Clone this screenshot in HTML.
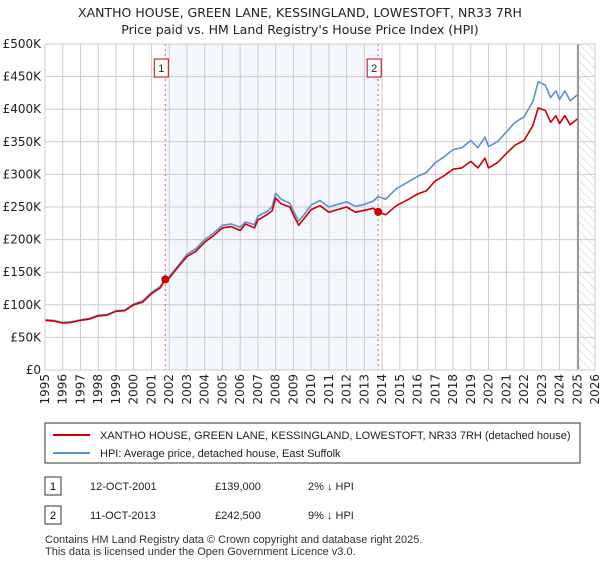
<!DOCTYPE html>
<html><head><meta charset="utf-8"><style>
body{margin:0;background:#fff;font-family:"Liberation Sans","DejaVu Sans",sans-serif;}
svg text{font-family:"Liberation Sans","DejaVu Sans",sans-serif;}
svg text.dj{font-family:"DejaVu Sans","Liberation Sans",sans-serif;}
</style></head><body>
<svg id="c" width="600" height="560" xmlns="http://www.w3.org/2000/svg">
<defs><pattern id="hatch" width="6" height="6" patternUnits="userSpaceOnUse" patternTransform="rotate(-45)"><line x1="0" y1="0" x2="0" y2="6" stroke="#ccc" stroke-width="1"/></pattern></defs>
<text class="dj" x="300" y="17" text-anchor="middle" font-size="12.5" fill="#222">XANTHO HOUSE, GREEN LANE, KESSINGLAND, LOWESTOFT, NR33 7RH</text>
<text class="dj" x="300" y="34" text-anchor="middle" font-size="12.5" fill="#222">Price paid vs. HM Land Registry's House Price Index (HPI)</text>
<g id="plot"></g>
<rect x="45" y="423" width="535" height="40" fill="#fff" stroke="#333"/>
<line x1="53" y1="435" x2="90" y2="435" stroke="#cc0000" stroke-width="2"/>
<text x="100" y="439" font-size="11" fill="#222">XANTHO HOUSE, GREEN LANE, KESSINGLAND, LOWESTOFT, NR33 7RH (detached house)</text>
<line x1="53" y1="453" x2="90" y2="453" stroke="#5b8fd4" stroke-width="2"/>
<text x="100" y="457" font-size="11" fill="#222">HPI: Average price, detached house, East Suffolk</text>
<rect x="45" y="477" width="16" height="18" fill="#fff" stroke="#333"/>
<text x="53" y="490" font-size="11" text-anchor="middle">1</text>
<text x="90" y="490" font-size="11" fill="#222">12-OCT-2001</text>
<text x="215" y="490" font-size="11" fill="#222">£139,000</text>
<text x="308" y="490" font-size="11" fill="#222">2% ↓ HPI</text>
<rect x="45" y="506" width="16" height="18" fill="#fff" stroke="#333"/>
<text x="53" y="519" font-size="11" text-anchor="middle">2</text>
<text x="90" y="519" font-size="11" fill="#222">11-OCT-2013</text>
<text x="215" y="519" font-size="11" fill="#222">£242,500</text>
<text x="308" y="519" font-size="11" fill="#222">9% ↓ HPI</text>
<text x="45" y="543" font-size="11" fill="#333">Contains HM Land Registry data © Crown copyright and database right 2025.</text>
<text x="45" y="555" font-size="11" fill="#333">This data is licensed under the Open Government Licence v3.0.</text>
</svg>
<script>
const dates=[1995,1995.5,1996,1996.5,1997,1997.5,1998,1998.5,1999,1999.5,2000,2000.5,2001,2001.5,2001.78,2002,2002.5,2003,2003.5,2004,2004.5,2005,2005.5,2006,2006.3,2006.8,2007,2007.5,2007.8,2008,2008.3,2008.8,2009,2009.3,2009.6,2010,2010.5,2011,2011.5,2012,2012.5,2013,2013.5,2013.78,2014.2,2014.8,2015.5,2016,2016.5,2017,2017.5,2018,2018.5,2019,2019.4,2019.8,2020,2020.5,2021,2021.5,2022,2022.5,2022.8,2023.2,2023.5,2023.8,2024,2024.3,2024.6,2025];
const priceK=[76,75,72,73,76,78,83,84,90,91,100,104,117,126,139,141,158,174,182,196,206,218,220,214,224,218,230,238,244,264,255,250,238,222,232,246,252,242,246,250,242,245,248,242.5,238,252,262,270,275,290,298,308,310,320,310,325,310,318,332,345,352,375,402,398,380,390,378,390,376,385];
const hpiK=[77,76,73,74,77,79,84,85,91,92,101,106,119,128,141,143,160,177,186,200,210,222,224,219,227,223,236,243,250,271,262,256,244,228,238,253,260,250,254,258,251,254,259,266,262,278,289,297,303,318,327,338,341,352,341,357,343,350,365,380,388,412,442,437,418,428,415,428,413,422];
const yTicks=[0,50,100,150,200,250,300,350,400,450,500];
const yTickLabels=["£0","£50K","£100K","£150K","£200K","£250K","£300K","£350K","£400K","£450K","£500K"];
const xTicks=[1995,1996,1997,1998,1999,2000,2001,2002,2003,2004,2005,2006,2007,2008,2009,2010,2011,2012,2013,2014,2015,2016,2017,2018,2019,2020,2021,2022,2023,2024,2025,2026];
const saleDates=[2001.78,2013.78];
const salePrices=[139,242.5];
const hatchStart=2025.05;

const L=45,R=595,T=44,B=370;
const x=d=>L+(d-1995)/(2026-1995)*(R-L);
const y=v=>B-v/500*(B-T);
const NS="http://www.w3.org/2000/svg";
const g=document.getElementById('plot');
function mk(t,a){const e=document.createElementNS(NS,t);for(const k in a)e.setAttribute(k,a[k]);g.appendChild(e);return e;}
let e;
e=mk('rect',{x:x(saleDates[0]),y:T,width:x(saleDates[1])-x(saleDates[0]),height:B-T,fill:'#f3f6fd'});


e=mk('rect',{x:x(hatchStart),y:T,width:R-x(hatchStart),height:B-T,fill:'url(#hatch)'});


yTicks.forEach((v,i)=>{
 e=mk('line',{x1:L,x2:R,y1:y(v),y2:y(v),stroke:'#ccc'});
 
 
 e=mk('text',{x:L-4,y:y(v)+4,'text-anchor':'end','font-size':12,fill:'#222','class':'dj'});e.textContent=yTickLabels[i];
 
 
});
xTicks.forEach(d=>{
 e=mk('line',{x1:x(d),x2:x(d),y1:T,y2:B,stroke:'#ccc'});
 
 
 const xx=x(d),yy=B+4;
 e=mk('text',{x:xx+4,y:yy,'text-anchor':'end','font-size':12,fill:'#222','class':'dj',transform:`rotate(-90 ${xx+4} ${yy})`});e.textContent=d;
 
 
});
e=mk('line',{x1:x(hatchStart),x2:x(hatchStart),y1:T,y2:B,stroke:'#888','stroke-width':1.5});


saleDates.forEach((d,i)=>{
 e=mk('line',{x1:x(d),x2:x(d),y1:T,y2:B,stroke:'#e06060','stroke-dasharray':'2,3'});
 
 
 e=mk('rect',{x:x(d)-11,y:59,width:14,height:18,fill:'#fff',stroke:'#cc0000'});
 
 
 e=mk('text',{x:x(d)-4,y:72,'text-anchor':'middle','font-size':11,fill:'#222'});e.textContent=String(i+1);
 
 
});
function line(arr,col,name){
 e=mk('polyline',{points:arr.map((v,i)=>x(dates[i]).toFixed(1)+','+y(v).toFixed(1)).join(' '),fill:'none',stroke:col,'stroke-width':1.6,'stroke-linejoin':'round'});
 
 
}
line(hpiK,'#5b8fd4','hpi-line');
line(priceK,'#cc0000','price-paid-line');
saleDates.forEach((d,i)=>{
 e=mk('circle',{cx:x(d),cy:y(salePrices[i]),r:4,fill:'#cc0000'});
 
 
});
e=mk('rect',{x:L,y:T,width:R-L,height:B-T,fill:'none',stroke:'#ccc'});


</script>
</body></html>
